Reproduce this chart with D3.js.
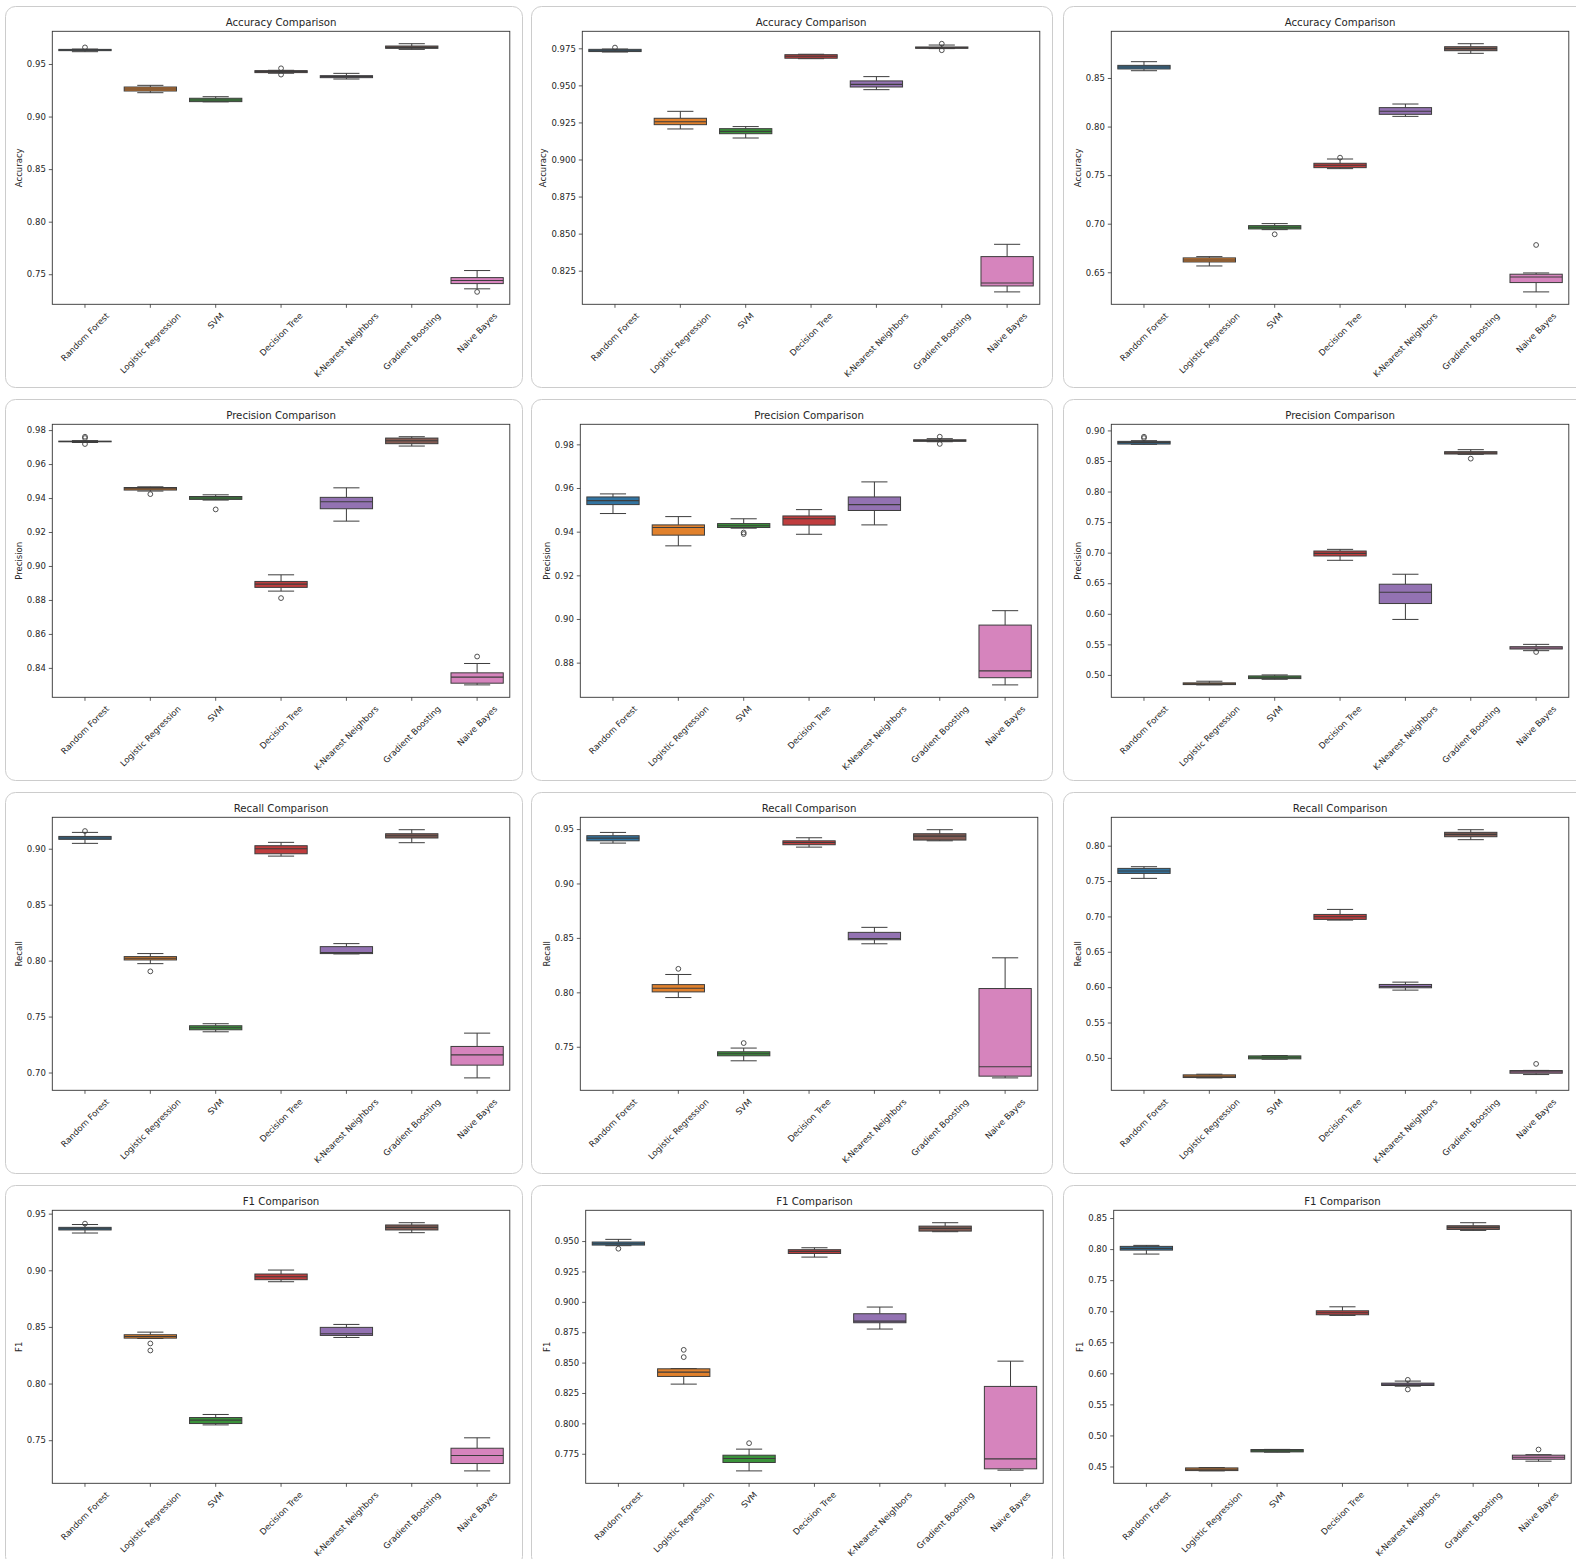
<!DOCTYPE html>
<html>
<head>
<meta charset="utf-8">
<script src="https://cdn.jsdelivr.net/npm/d3@7"></script>
<style>
  html, body { margin: 0; padding: 0; background: #fff; }
  svg { display: block; font-family: "DejaVu Sans", sans-serif; }
</style>
</head>
<body>
<svg id="chart" width="1576" height="1559"></svg>
<script>
// ---- categories and colours ----
const models = ["Random Forest", "Logistic Regression", "SVM", "Decision Tree",
                "K-Nearest Neighbors", "Gradient Boosting", "Naive Bayes"];
const palette = ["#3274a1", "#e1812c", "#3a923a", "#c03d3e", "#9372b2", "#845b53", "#d684bd"];
const metricNames = ["Accuracy", "Precision", "Recall", "F1"];

// ---- box summaries per model: [lower whisker, Q1, median, Q3, upper whisker, [fliers]] ----
const accuracyA = [
  [0.9617, 0.9627, 0.9633, 0.9639, 0.9642, [0.9658]],
  [0.9227, 0.9243, 0.9262, 0.9281, 0.9297, []],
  [0.9140, 0.9142, 0.9158, 0.9174, 0.9189, []],
  [0.9412, 0.9418, 0.9427, 0.9437, 0.9440, [0.9459, 0.9399]],
  [0.9357, 0.9370, 0.9380, 0.9389, 0.9411, []],
  [0.9639, 0.9649, 0.9658, 0.9671, 0.9693, []],
  [0.7361, 0.7411, 0.7440, 0.7468, 0.7535, [0.7332]]
];
const accuracyB = [
  [0.9725, 0.9728, 0.9734, 0.9743, 0.9745, [0.9755]],
  [0.9206, 0.9235, 0.9255, 0.9278, 0.9325, []],
  [0.9145, 0.9174, 0.9190, 0.9208, 0.9222, []],
  [0.9680, 0.9683, 0.9696, 0.9707, 0.9710, []],
  [0.9471, 0.9489, 0.9507, 0.9530, 0.9559, []],
  [0.9748, 0.9750, 0.9754, 0.9759, 0.9772, [0.9781, 0.9737]],
  [0.8107, 0.8147, 0.8167, 0.8345, 0.8428, []]
];
const accuracyC = [
  [0.8575, 0.8593, 0.8613, 0.8630, 0.8668, []],
  [0.6565, 0.6606, 0.6627, 0.6648, 0.6661, []],
  [0.6939, 0.6946, 0.6963, 0.6980, 0.7001, [0.6891]],
  [0.7567, 0.7577, 0.7601, 0.7622, 0.7666, [0.7680]],
  [0.8105, 0.8126, 0.8157, 0.8195, 0.8232, []],
  [0.8754, 0.8781, 0.8802, 0.8822, 0.8853, []],
  [0.6298, 0.6394, 0.6452, 0.6480, 0.6493, [0.6781]]
];
const precisionA = [
  [0.9727, 0.9731, 0.9733, 0.9735, 0.9738, [0.9761, 0.9753, 0.9718]],
  [0.9441, 0.9447, 0.9455, 0.9462, 0.9466, [0.9423]],
  [0.9388, 0.9392, 0.9400, 0.9409, 0.9419, [0.9333]],
  [0.8852, 0.8874, 0.8893, 0.8909, 0.8948, [0.8811]],
  [0.9264, 0.9337, 0.9378, 0.9404, 0.9460, []],
  [0.9706, 0.9720, 0.9737, 0.9753, 0.9761, []],
  [0.8300, 0.8310, 0.8346, 0.8371, 0.8426, [0.8467]]
];
const precisionB = [
  [0.9483, 0.9524, 0.9542, 0.9559, 0.9573, []],
  [0.9335, 0.9384, 0.9419, 0.9431, 0.9469, []],
  [0.9416, 0.9419, 0.9427, 0.9437, 0.9459, [0.9396, 0.9389]],
  [0.9388, 0.9430, 0.9459, 0.9472, 0.9501, []],
  [0.9431, 0.9497, 0.9524, 0.9559, 0.9628, []],
  [0.9812, 0.9814, 0.9817, 0.9821, 0.9826, [0.9835, 0.9802]],
  [0.8698, 0.8731, 0.8762, 0.8972, 0.9038, []]
];
const precisionC = [
  [0.8772, 0.8777, 0.8804, 0.8821, 0.8832, [0.8897, 0.8875]],
  [0.4837, 0.4842, 0.4853, 0.4870, 0.4897, []],
  [0.4929, 0.4940, 0.4962, 0.4984, 0.5000, []],
  [0.6875, 0.6946, 0.6989, 0.7027, 0.7054, []],
  [0.5908, 0.6168, 0.6353, 0.6484, 0.6647, []],
  [0.8609, 0.8614, 0.8630, 0.8652, 0.8685, [0.8538]],
  [0.5397, 0.5424, 0.5440, 0.5462, 0.5500, [0.5375]]
];
const recallA = [
  [0.9048, 0.9084, 0.9096, 0.9110, 0.9146, [0.9158]],
  [0.7973, 0.8006, 0.8021, 0.8036, 0.8063, [0.7904]],
  [0.7364, 0.7382, 0.7400, 0.7418, 0.7436, []],
  [0.8934, 0.8955, 0.9000, 0.9027, 0.9057, []],
  [0.8060, 0.8063, 0.8072, 0.8125, 0.8152, []],
  [0.9054, 0.9096, 0.9116, 0.9134, 0.9170, []],
  [0.6952, 0.7066, 0.7158, 0.7233, 0.7352, []]
];
const recallB = [
  [0.9371, 0.9392, 0.9417, 0.9439, 0.9469, []],
  [0.7952, 0.8004, 0.8038, 0.8071, 0.8164, [0.8216]],
  [0.7371, 0.7417, 0.7436, 0.7454, 0.7488, [0.7534]],
  [0.9334, 0.9356, 0.9377, 0.9392, 0.9420, []],
  [0.8446, 0.8483, 0.8495, 0.8551, 0.8597, []],
  [0.9392, 0.9399, 0.9435, 0.9457, 0.9494, []],
  [0.7214, 0.7230, 0.7316, 0.8035, 0.8317, []]
];
const recallC = [
  [0.7538, 0.7608, 0.7642, 0.7679, 0.7703, []],
  [0.4717, 0.4722, 0.4741, 0.4760, 0.4769, []],
  [0.4981, 0.4986, 0.5009, 0.5028, 0.5033, []],
  [0.6948, 0.6958, 0.6995, 0.7028, 0.7099, []],
  [0.5958, 0.5991, 0.6009, 0.6038, 0.6071, []],
  [0.8085, 0.8127, 0.8160, 0.8189, 0.8226, []],
  [0.4764, 0.4783, 0.4802, 0.4821, 0.4823, [0.4915]]
];
const f1A = [
  [0.9329, 0.9356, 0.9367, 0.9379, 0.9404, [0.9412]],
  [0.8398, 0.8401, 0.8416, 0.8431, 0.8454, [0.8354, 0.8292]],
  [0.7635, 0.7647, 0.7677, 0.7700, 0.7727, []],
  [0.8899, 0.8917, 0.8943, 0.8967, 0.9002, []],
  [0.8407, 0.8425, 0.8440, 0.8496, 0.8522, []],
  [0.9332, 0.9356, 0.9379, 0.9400, 0.9420, []],
  [0.7229, 0.7294, 0.7365, 0.7429, 0.7521, []]
];
const f1B = [
  [0.9462, 0.9467, 0.9478, 0.9492, 0.9514, [0.9437]],
  [0.8323, 0.8386, 0.8422, 0.8449, 0.8451, [0.8605, 0.8545]],
  [0.7609, 0.7678, 0.7711, 0.7738, 0.7788, [0.7837]],
  [0.9368, 0.9398, 0.9415, 0.9429, 0.9445, []],
  [0.8776, 0.8828, 0.8841, 0.8902, 0.8957, []],
  [0.9577, 0.9582, 0.9604, 0.9623, 0.9651, []],
  [0.7615, 0.7626, 0.7708, 0.8304, 0.8512, []]
];
const f1C = [
  [0.7920, 0.7984, 0.8011, 0.8044, 0.8060, []],
  [0.4429, 0.4434, 0.4456, 0.4477, 0.4483, []],
  [0.4730, 0.4735, 0.4751, 0.4773, 0.4775, []],
  [0.6932, 0.6943, 0.6975, 0.7007, 0.7071, []],
  [0.5793, 0.5804, 0.5825, 0.5842, 0.5875, [0.5895, 0.5740]],
  [0.8301, 0.8317, 0.8350, 0.8376, 0.8425, []],
  [0.4585, 0.4617, 0.4649, 0.4682, 0.4690, [0.4773]]
];

// ---- y tick labels per panel ----
const accuracyATicks  = ["0.75", "0.80", "0.85", "0.90", "0.95"];
const accuracyBTicks  = ["0.825", "0.850", "0.875", "0.900", "0.925", "0.950", "0.975"];
const accuracyCTicks  = ["0.65", "0.70", "0.75", "0.80", "0.85"];
const precisionATicks = ["0.84", "0.86", "0.88", "0.90", "0.92", "0.94", "0.96", "0.98"];
const precisionBTicks = ["0.88", "0.90", "0.92", "0.94", "0.96", "0.98"];
const precisionCTicks = ["0.50", "0.55", "0.60", "0.65", "0.70", "0.75", "0.80", "0.85", "0.90"];
const recallATicks    = ["0.70", "0.75", "0.80", "0.85", "0.90"];
const recallBTicks    = ["0.75", "0.80", "0.85", "0.90", "0.95"];
const recallCTicks    = ["0.50", "0.55", "0.60", "0.65", "0.70", "0.75", "0.80"];
const f1ATicks        = ["0.75", "0.80", "0.85", "0.90", "0.95"];
const f1BTicks        = ["0.775", "0.800", "0.825", "0.850", "0.875", "0.900", "0.925", "0.950"];
const f1CTicks        = ["0.45", "0.50", "0.55", "0.60", "0.65", "0.70", "0.75", "0.80", "0.85"];

const panelData = [
  [accuracyA, accuracyB, accuracyC],
  [precisionA, precisionB, precisionC],
  [recallA, recallB, recallC],
  [f1A, f1B, f1C]
];
const panelTicks = [
  [accuracyATicks, accuracyBTicks, accuracyCTicks],
  [precisionATicks, precisionBTicks, precisionCTicks],
  [recallATicks, recallBTicks, recallCTicks],
  [f1ATicks, f1BTicks, f1CTicks]
];

// ---- layout ----
const colX = [5, 531, 1063];
const colW = [517, 521, 530];
const rowY = [6, 399, 792, 1185];
const cardH = 381;
const plotLeftOffset = [
  [47.3, 51.3, 48.3],
  [47.3, 49.3, 48.3],
  [47.3, 49.3, 48.3],
  [47.3, 54.7, 50.7]
];
const plotTopOffset = 25.3;
const plotW = 457.5;
const plotH = 273;
const tickFont = 8.5;
const titleFont = 10.2;
const lineColor = "#3d3d3d";

const svg = d3.select("#chart");

function drawPanel(row, col) {
  const data = panelData[row][col];
  const ticks = panelTicks[row][col];
  const metric = metricNames[row];

  const x0 = colX[col], y0 = rowY[row];
  const card = svg.append("g");
  card.append("rect")
    .attr("x", x0 + 0.5).attr("y", y0 + 0.5)
    .attr("width", colW[col]).attr("height", cardH)
    .attr("rx", 10).attr("ry", 10)
    .attr("fill", "#fff").attr("stroke", "#cccccc").attr("stroke-width", 1);

  const left = x0 + plotLeftOffset[row][col];
  const top = y0 + plotTopOffset;
  const right = left + plotW, bottom = top + plotH;

  // y limits: data extent with 5% margins
  const allVals = data.flatMap(d => [d[0], d[4], ...d[5]]);
  const lo = d3.min(allVals), hi = d3.max(allVals);
  const pad = (hi - lo) * 0.05;
  const y = d3.scaleLinear().domain([lo - pad, hi + pad]).range([bottom, top]);
  const x = d3.scaleBand().domain(models).range([left, right]).paddingInner(0).paddingOuter(0);
  const bw = x.bandwidth() * 0.8;
  const cw = bw * 0.5;

  const g = card.append("g");

  // boxes
  data.forEach((d, i) => {
    const cx = x(models[i]) + x.bandwidth() / 2;
    const [wLo, q1, med, q3, wHi, fliers] = d;
    const bg = g.append("g");
    // whiskers
    bg.append("line").attr("x1", cx).attr("x2", cx).attr("y1", y(q1)).attr("y2", y(wLo))
      .attr("stroke", lineColor).attr("stroke-width", 1);
    bg.append("line").attr("x1", cx).attr("x2", cx).attr("y1", y(q3)).attr("y2", y(wHi))
      .attr("stroke", lineColor).attr("stroke-width", 1);
    // caps
    [wLo, wHi].forEach(v => {
      bg.append("line").attr("x1", cx - cw / 2).attr("x2", cx + cw / 2)
        .attr("y1", y(v)).attr("y2", y(v))
        .attr("stroke", lineColor).attr("stroke-width", 1);
    });
    // box
    bg.append("rect")
      .attr("x", cx - bw / 2).attr("y", y(q3))
      .attr("width", bw).attr("height", Math.max(0.5, y(q1) - y(q3)))
      .attr("fill", palette[i]).attr("stroke", lineColor).attr("stroke-width", 1);
    // median
    bg.append("line").attr("x1", cx - bw / 2).attr("x2", cx + bw / 2)
      .attr("y1", y(med)).attr("y2", y(med))
      .attr("stroke", lineColor).attr("stroke-width", 1.1);
    // fliers
    fliers.forEach(v => {
      bg.append("circle").attr("cx", cx).attr("cy", y(v)).attr("r", 2.4)
        .attr("fill", "none").attr("stroke", lineColor).attr("stroke-width", 0.9);
    });
  });

  // frame
  g.append("rect").attr("x", left).attr("y", top).attr("width", plotW).attr("height", plotH)
    .attr("fill", "none").attr("stroke", "#333").attr("stroke-width", 0.9);

  // y axis
  const yAxis = d3.axisLeft(y)
    .tickValues(ticks.map(Number))
    .tickFormat((d, i) => ticks[i])
    .tickSize(3.5).tickPadding(3);
  const ya = g.append("g").attr("transform", `translate(${left},0)`).call(yAxis);
  ya.select(".domain").remove();
  ya.selectAll(".tick line").attr("stroke", "#333").attr("stroke-width", 0.8);
  ya.selectAll(".tick text").attr("fill", "#262626")
    .attr("font-size", tickFont).attr("font-family", "DejaVu Sans");
  const yaBox = ya.node().getBBox();

  // y label, placed left of the widest tick label
  const ylx = left + yaBox.x - 3.4 - tickFont * 0.58;
  g.append("text")
    .attr("transform", `translate(${ylx},${(top + bottom) / 2}) rotate(-90)`)
    .attr("text-anchor", "middle").attr("dominant-baseline", "central")
    .attr("font-size", tickFont).attr("fill", "#262626")
    .text(metric);

  // x ticks and rotated labels
  models.forEach((m, i) => {
    const cx = x(m) + x.bandwidth() / 2;
    g.append("line").attr("x1", cx).attr("x2", cx).attr("y1", bottom).attr("y2", bottom + 3.5)
      .attr("stroke", "#333").attr("stroke-width", 0.8);
    const t = g.append("text")
      .attr("text-anchor", "middle").attr("dominant-baseline", "central")
      .attr("font-size", tickFont).attr("fill", "#262626")
      .text(m);
    const w = t.node().getComputedTextLength();
    const ext = (w + tickFont * 1.16) * Math.SQRT1_2;
    const cy = bottom + 3.5 + 3 + ext / 2;
    t.attr("transform", `translate(${cx},${cy}) rotate(-45)`);
  });

  // title
  g.append("text")
    .attr("x", (left + right) / 2).attr("y", top - 5.5)
    .attr("text-anchor", "middle")
    .attr("font-size", titleFont).attr("fill", "#262626")
    .text(`${metric} Comparison`);
}

for (let r = 0; r < 4; r++) {
  for (let c = 0; c < 3; c++) drawPanel(r, c);
}
</script>
</body>
</html>
